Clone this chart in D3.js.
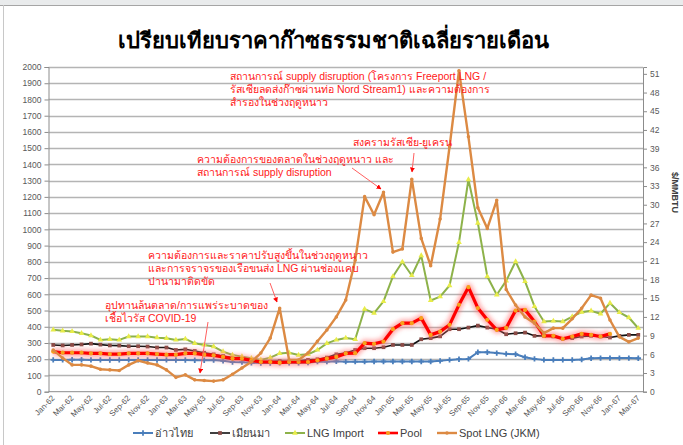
<!DOCTYPE html>
<html>
<head>
<meta charset="utf-8">
<script src="https://cdn.jsdelivr.net/npm/d3@7"></script>
<style>
  body { margin: 0; background: #fff; }
  text { font-family: "Liberation Sans", "Noto Sans", sans-serif; }
</style>
</head>
<body>
<div id="chart"></div>
<script>
// data
let months = [
  "Jan-62","Feb-62","Mar-62","Apr-62","May-62","Jun-62","Jul-62","Aug-62","Sep-62","Oct-62","Nov-62","Dec-62",
  "Jan-63","Feb-63","Mar-63","Apr-63","May-63","Jun-63","Jul-63","Aug-63","Sep-63","Oct-63","Nov-63","Dec-63",
  "Jan-64","Feb-64","Mar-64","Apr-64","May-64","Jun-64","Jul-64","Aug-64","Sep-64","Oct-64","Nov-64","Dec-64",
  "Jan-65","Feb-65","Mar-65","Apr-65","May-65","Jun-65","Jul-65","Aug-65","Sep-65","Oct-65","Nov-65","Dec-65",
  "Jan-66","Feb-66","Mar-66","Apr-66","May-66","Jun-66","Jul-66","Aug-66","Sep-66","Oct-66","Nov-66","Dec-66",
  "Jan-67","Feb-67","Mar-67"
];

let gulf = [196,196,197,197,196,196,195,196,196,196,195,195,196,195,195,194,194,195,190,183,182,178,177,177,
  178,178,178,180,185,185,187,185,185,185,186,186,186,186,186,186,186,190,196,200,202,243,243,238,
  233,231,212,202,196,196,196,196,198,206,207,207,207,207,206];

let myanmar = [288,285,288,291,296,290,285,284,280,280,278,272,272,257,261,251,240,230,220,210,206,196,185,185,
  189,185,189,196,200,210,230,238,257,268,268,274,288,288,288,323,330,341,385,385,395,407,395,385,
  354,360,364,344,344,340,326,330,340,344,340,334,344,350,350];

let lngImport = [381,375,371,360,346,319,323,319,340,340,340,333,329,319,325,298,288,278,247,226,216,206,196,210,
  236,240,226,230,257,298,319,331,323,509,484,556,710,799,716,838,562,586,654,920,1307,1039,710,597,
  683,802,679,525,432,436,432,463,490,498,480,546,488,457,391];

let pool = [247,240,240,240,236,236,232,232,236,236,236,232,228,228,236,236,228,224,214,204,204,193,183,183,
  179,183,183,183,193,204,214,236,237,299,295,309,385,422,422,453,350,370,412,535,644,515,443,381,
  393,500,504,432,344,344,326,340,356,350,340,356,null,null,null];

// Spot LNG (JKM), right axis $/MMBTU
let jkm = [6.7,5.4,4.3,4.3,4.1,3.6,3.5,3.4,4.3,5.0,4.6,4.3,3.5,2.3,2.7,1.9,1.8,1.7,1.9,2.8,3.8,4.8,6.2,8.6,
  13.4,5.1,5.1,6.2,8.1,9.9,12.0,14.7,21.1,31.3,28.4,32.0,22.4,22.9,34.1,24.6,20.2,27.7,39.3,51.5,40.9,29.5,26.2,30.7,
  16.4,13.9,12.0,11.0,9.4,10.2,10.2,11.7,13.4,15.5,15.0,11.5,8.8,8.0,8.6];

let leftTicks = d3.range(0, 2001, 100);
let rightTicks = d3.range(0, 52, 3);
let rightMax = 52.1;

let width = 683;
let height = 445;

let svg = d3
  .select("#chart")
  .append("svg")
  .attr("width", width)
  .attr("height", height);

// screenshot frame
svg.append("rect").attr("x", 0).attr("y", 0).attr("width", width).attr("height", 5).attr("fill", "#e9ebec");
svg.append("line").attr("x1", 0).attr("x2", width).attr("y1", 5.5).attr("y2", 5.5).attr("stroke", "#a5a5a5");
svg.append("line").attr("x1", 3.5).attr("x2", 3.5).attr("y1", 5).attr("y2", height).attr("stroke", "#c8c8c8");

let plot = { left: 48.5, right: 643, top: 67, bottom: 391.7 };

let x = d3.scalePoint().domain(months).range([plot.left, plot.right]).padding(0.5);
let y = d3.scaleLinear().domain([0, 2000]).range([plot.bottom, plot.top]);
let y2 = d3.scaleLinear().domain([0, rightMax]).range([plot.bottom, plot.top]);

// title
svg
  .append("text")
  .attr("x", 333)
  .attr("y", 48)
  .attr("text-anchor", "middle")
  .attr("font-size", 22)
  .attr("font-weight", "bold")
  .attr("fill", "#000")
  .text("เปรียบเทียบราคาก๊าซธรรมชาติเฉลี่ยรายเดือน");

// gridlines
svg
  .append("g")
  .selectAll("line")
  .data(leftTicks.slice(1))
  .join("line")
  .attr("x1", plot.left)
  .attr("x2", plot.right)
  .attr("y1", (d) => Math.round(y(d)) + 0.5)
  .attr("y2", (d) => Math.round(y(d)) + 0.5)
  .attr("stroke", "#b4b4b4")
  .attr("stroke-width", 1.3);

// left axis
let leftAxis = svg
  .append("g")
  .attr("transform", `translate(${plot.left},0)`)
  .call(d3.axisLeft(y).tickValues(leftTicks).tickFormat(d3.format("d")).tickSize(4).tickPadding(3));
leftAxis.select(".domain").attr("stroke", "#8c8c8c");
leftAxis.selectAll(".tick line").attr("stroke", "#8c8c8c");
leftAxis.selectAll("text").attr("fill", "#595959").attr("font-size", 8.5);

// right axis
let rightAxis = svg
  .append("g")
  .attr("transform", `translate(${plot.right},0)`)
  .call(d3.axisRight(y2).tickValues(rightTicks).tickFormat(d3.format("d")).tickSize(4).tickPadding(3));
rightAxis.select(".domain").attr("stroke", "#8c8c8c");
rightAxis.selectAll(".tick line").attr("stroke", "#8c8c8c");
rightAxis.selectAll("text").attr("fill", "#595959").attr("font-size", 8.5);

svg
  .append("text")
  .attr("transform", "translate(672,172) rotate(90)")
  .attr("font-size", 9)
  .attr("font-weight", "bold")
  .attr("fill", "#404040")
  .text("$/MMBTU");

// bottom axis
svg
  .append("line")
  .attr("x1", plot.left)
  .attr("x2", plot.right)
  .attr("y1", plot.bottom)
  .attr("y2", plot.bottom)
  .attr("stroke", "#8c8c8c");

svg
  .append("g")
  .selectAll("text")
  .data(months.filter((d, i) => i % 2 == 0))
  .join("text")
  .attr("transform", (d) => `translate(${x(d) + 2},${plot.bottom + 7}) rotate(-45)`)
  .attr("text-anchor", "end")
  .attr("font-size", 8)
  .attr("fill", "#595959")
  .text((d) => d);

// glow for the Pool line
let defs = svg.append("defs");
defs
  .append("filter")
  .attr("id", "glow")
  .attr("x", "-10%")
  .attr("y", "-10%")
  .attr("width", "120%")
  .attr("height", "120%")
  .append("feGaussianBlur")
  .attr("stdDeviation", 2);

let series = [
  { name: "อ่าวไทย", values: gulf, scale: y, color: "#4a7ebb", width: 2, marker: d3.symbolCross, msize: 16, mfill: "#4a7ebb" },
  { name: "เมียนมา", values: myanmar, scale: y, color: "#111", width: 1.6, marker: d3.symbolSquare, msize: 14, mfill: "#8a4a45" },
  { name: "LNG Import", values: lngImport, scale: y, color: "#8db24a", width: 2, marker: d3.symbolTriangle, msize: 14, mfill: "#e8ec4a" },
  { name: "Pool", values: pool, scale: y, color: "#ff0000", width: 3.2, marker: d3.symbolCircle, msize: 14, mfill: "#f7a21b", glow: true },
  { name: "Spot LNG (JKM)", values: jkm, scale: y2, color: "#dc8a43", width: 2.4, marker: d3.symbolCircle, msize: 10, mfill: "#dc8a43" },
];

series.forEach((s) => {
  let pts = months.map((m, i) => ({ m: m, v: s.values[i] })).filter((d) => d.v != null);
  let line = d3
    .line()
    .x((d) => x(d.m))
    .y((d) => s.scale(d.v));
  let g = svg.append("g");
  if (s.glow) {
    g.append("path")
      .datum(pts)
      .attr("d", line)
      .attr("fill", "none")
      .attr("stroke", "#ff6b6b")
      .attr("stroke-opacity", 0.55)
      .attr("stroke-width", 8)
      .attr("stroke-linejoin", "round")
      .attr("filter", "url(#glow)");
  }
  g.append("path")
    .datum(pts)
    .attr("d", line)
    .attr("fill", "none")
    .attr("stroke", s.color)
    .attr("stroke-width", s.width)
    .attr("stroke-linejoin", "round");
  g.selectAll("path.mk")
    .data(pts)
    .join("path")
    .attr("class", "mk")
    .attr("transform", (d) => `translate(${x(d.m)},${s.scale(d.v)})`)
    .attr("d", d3.symbol().type(s.marker).size(s.msize))
    .attr("fill", s.mfill);
});

// annotations
let notes = [
  { x: 230, y: 80, lines: ["สถานการณ์ supply disruption (โครงการ Freeport LNG /", "รัสเซียลดส่งก๊าซผ่านท่อ Nord Stream1) และความต้องการ", "สำรองในช่วงฤดูหนาว"] },
  { x: 353, y: 146, lines: ["สงครามรัสเซีย-ยูเครน"] },
  { x: 197, y: 163, lines: ["ความต้องการของตลาดในช่วงฤดูหนาว  และ", "สถานการณ์ supply disruption"] },
  { x: 148, y: 259, lines: ["ความต้องการและราคาปรับสูงขึ้นในช่วงฤดูหนาว", "และการจราจรของเรือขนส่ง LNG ผ่านช่องแคบ", "ปานามาติดขัด"] },
  { x: 105, y: 309, lines: ["อุปทานล้นตลาด/การแพร่ระบาดของ", "เชื้อไวรัส COVID-19"] },
];

let arrows = [
  { x1: 414, y1: 153, x2: 412, y2: 172 },
  { x1: 352, y1: 168, x2: 381, y2: 189 },
  { x1: 270, y1: 283, x2: 277, y2: 302 },
  { x1: 208, y1: 322, x2: 200, y2: 373 },
];

notes.forEach((n) => {
  svg
    .append("text")
    .attr("x", n.x)
    .attr("y", n.y)
    .attr("font-size", 10.5)
    .attr("fill", "#ff2020")
    .selectAll("tspan")
    .data(n.lines)
    .join("tspan")
    .attr("x", n.x)
    .attr("dy", (d, i) => (i == 0 ? 0 : 13))
    .text((d) => d);
});

defs
  .append("marker")
  .attr("id", "arrow")
  .attr("viewBox", "0 0 10 10")
  .attr("refX", 9)
  .attr("refY", 5)
  .attr("markerWidth", 5)
  .attr("markerHeight", 5)
  .attr("orient", "auto")
  .append("path")
  .attr("d", "M0,0L10,5L0,10z")
  .attr("fill", "#ff0000");

svg
  .append("g")
  .selectAll("line")
  .data(arrows)
  .join("line")
  .attr("x1", (d) => d.x1)
  .attr("y1", (d) => d.y1)
  .attr("x2", (d) => d.x2)
  .attr("y2", (d) => d.y2)
  .attr("stroke", "#ff6060")
  .attr("stroke-width", 1)
  .attr("marker-end", "url(#arrow)");

// legend
let legendX = [133, 210, 285, 378, 437];
let legend = svg
  .append("g")
  .selectAll("g")
  .data(series)
  .join("g")
  .attr("transform", (d, i) => `translate(${legendX[i]},433)`);

legend
  .append("line")
  .attr("x1", 0)
  .attr("x2", 20)
  .attr("stroke", (d) => d.color)
  .attr("stroke-width", (d) => Math.min(d.width, 2.6));

legend
  .append("path")
  .attr("transform", "translate(10,0)")
  .attr("d", (d) => d3.symbol().type(d.marker).size(d.msize)())
  .attr("fill", (d) => d.mfill);

legend
  .append("text")
  .attr("x", 22)
  .attr("y", 4)
  .attr("font-size", 11)
  .attr("fill", "#404040")
  .text((d) => d.name);
</script>
</body>
</html>
